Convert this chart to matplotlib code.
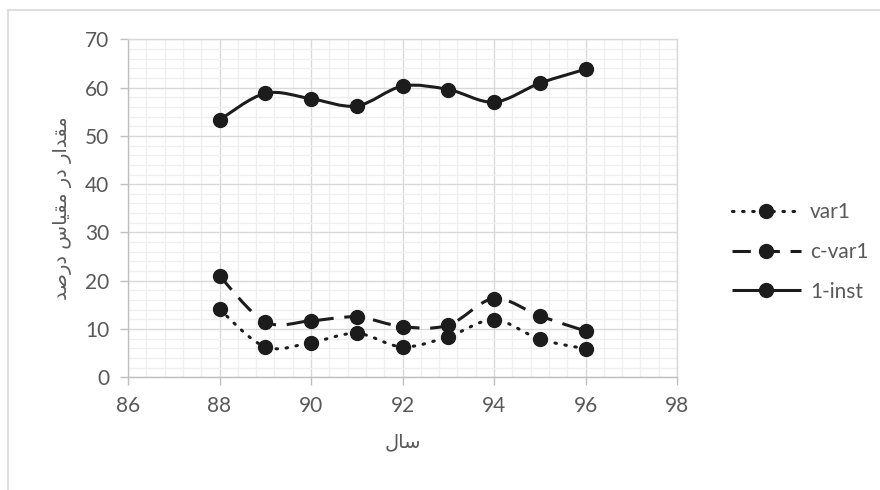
import numpy as np
import matplotlib.pyplot as plt
from matplotlib.path import Path
from matplotlib.patches import PathPatch
from matplotlib.lines import Line2D
from matplotlib.ticker import MultipleLocator

plt.rcParams['font.family'] = ['Lato', 'DejaVu Sans']

years = [88, 89, 90, 91, 92, 93, 94, 95, 96]
var1 = [14.1, 6.3, 7.2, 9.1, 6.3, 8.4, 11.9, 7.9, 5.9]
c_var1 = [21.0, 11.5, 11.7, 12.5, 10.5, 10.8, 16.3, 12.7, 9.6]
inst = [53.3, 58.8, 57.7, 56.2, 60.3, 59.6, 57.0, 60.9, 63.8]

series_names = ['var1', 'c-var1', '1-inst']

# persian labels, pre-shaped (presentation forms, visual order)
xlabel_fa = '\uFEDD\uFE8E\uFEB3'                       # سال
ylabel_words = [
    '\uFEE3\uFED8\uFEAA\uFE8D\uFEAD',                    # مقدار
    '\uFEA9\uFEAD',                                      # در
    '\uFEE3\uFED8\uFBFF\uFE8E\uFEB1',                    # مقیاس
    '\uFEA9\uFEAD\uFEBB\uFEAA',                          # درصد
]
ylabel_fa = ' '.join(ylabel_words)[::-1]

ink = '#1c1c1c'
grey_txt = '#595959'


def smooth_path(xs, ys):
    # excel-like smoothed line: catmull-rom as cubic beziers
    pts = np.column_stack([xs, ys]).astype(float)
    n = len(pts)
    verts = [pts[0]]
    codes = [Path.MOVETO]
    for i in range(n - 1):
        p0 = pts[i - 1] if i > 0 else pts[i]
        p1 = pts[i]
        p2 = pts[i + 1]
        p3 = pts[i + 2] if i + 2 < n else pts[i + 1]
        verts += [p1 + (p2 - p0) / 6, p2 - (p3 - p1) / 6, p2]
        codes += [Path.CURVE4] * 3
    return Path(verts, codes)


fig = plt.figure(figsize=(8.8, 4.9), dpi=100)
ax = fig.add_axes([128 / 880, 1 - 377.3 / 490, 549 / 880, 338 / 490])

# outer chart border (top and left visible)
fig.add_artist(Line2D([7.5 / 880, 7.5 / 880], [0, 1 - 10 / 490], color='#d9d9d9', lw=1.2))
fig.add_artist(Line2D([7.5 / 880, 1], [1 - 10 / 490, 1 - 10 / 490], color='#d9d9d9', lw=1.2))

styles = {
    'var1': dict(ls=(0, (0.5, 2.8)), capstyle='round'),
    'c-var1': dict(ls=(0, (6, 3.5)), capstyle='butt'),
    '1-inst': dict(ls='-', capstyle='round'),
}
data = {'var1': var1, 'c-var1': c_var1, '1-inst': inst}

handles = []
for name in series_names:
    st = styles[name]
    patch = PathPatch(smooth_path(years, data[name]), fill=False, edgecolor=ink,
                      lw=2.2, linestyle=st['ls'], capstyle=st['capstyle'], zorder=3)
    ax.add_patch(patch)
    ax.plot(years, data[name], ls='none', marker='o', ms=10, color=ink, zorder=4)
    h = Line2D([], [], color=ink, lw=2.2, ls=st['ls'], marker='o', ms=10,
               dash_capstyle=st['capstyle'], solid_capstyle='butt')
    handles.append(h)

ax.set_xlim(86, 98)
ax.set_ylim(0, 70)
ax.xaxis.set_major_locator(MultipleLocator(2))
ax.xaxis.set_minor_locator(MultipleLocator(0.4))
ax.yaxis.set_major_locator(MultipleLocator(10))
ax.yaxis.set_minor_locator(MultipleLocator(2))

ax.grid(which='major', color='#d9d9d9', lw=1.0)
ax.grid(which='minor', color='#efefef', lw=0.9)
ax.set_axisbelow(True)

for s in ax.spines.values():
    s.set_color('#d9d9d9')
    s.set_linewidth(1.0)
ax.spines['left'].set_color('#bfbfbf')
ax.spines['bottom'].set_color('#bfbfbf')

ax.tick_params(which='major', length=5.5, width=1.0, color='#bfbfbf',
               labelsize=15, labelcolor=grey_txt)
ax.tick_params(axis='y', which='major', pad=8)
ax.tick_params(axis='x', which='major', pad=8)
ax.tick_params(which='minor', length=0)

ax.set_xlabel(xlabel_fa, fontsize=14, color=grey_txt, family=['DejaVu Sans'], labelpad=12)
ax.set_ylabel(ylabel_fa, fontsize=14, color=grey_txt, family=['DejaVu Sans'], labelpad=9)

fig.legend(handles, series_names, loc='center left',
           bbox_to_anchor=(732 / 880, 1 - 252 / 490), frameon=False,
           fontsize=15, labelcolor=grey_txt, handlelength=3.3, handletextpad=0.45,
           labelspacing=0.95, borderpad=0, borderaxespad=0)

fig.savefig('out.png', dpi=100)
